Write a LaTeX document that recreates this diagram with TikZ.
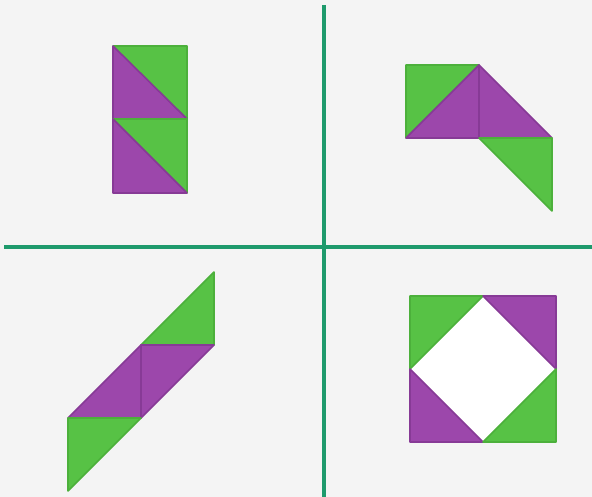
\documentclass[tikz,border=0pt]{standalone}
\usepackage{tikz}
\usetikzlibrary{positioning, calc}
\definecolor{bggray}{HTML}{F4F4F4}
\definecolor{rulegreen}{HTML}{1E9A6C}
\definecolor{leafgreen}{HTML}{57C245}
\definecolor{leafedge}{HTML}{4CB03B}
\definecolor{plum}{HTML}{9C47AB}
\definecolor{plumedge}{HTML}{873A96}
\tikzset{
	greentri/.style={fill=leafgreen, draw=leafedge, line width=1.6pt, line join=round},
	purpletri/.style={fill=plum, draw=plumedge, line width=1.6pt, line join=round},
	divider/.style={draw=rulegreen, line width=3.6pt}
}
\newcommand{\tri}[4]{\filldraw[#1] #2 -- #3 -- #4 -- cycle;}

\begin{document}
\begin{tikzpicture}[x=1pt, y=-1pt]
      \fill[bggray] (0,0) rectangle (592,497);
      \useasboundingbox (0,0) rectangle (592,497);

      % dividers
      \coordinate (vtop) at (324,5);
      \coordinate (vbot) at (324,497);
      \coordinate (hleft) at (4,247);
      \coordinate (hright) at (592,247);
      \draw[divider] (vtop) -- (vbot);
      \draw[divider] (hleft) -- (hright);

      % top left: two stacked squares
      \tri{greentri}{(113,46)}{(187,46)}{(187,119)}
      \tri{purpletri}{(113,46)}{(113,119)}{(187,119)}
      \tri{greentri}{(113,119)}{(187,119)}{(187,193)}
      \tri{purpletri}{(113,119)}{(113,193)}{(187,193)}

      % top right
      \tri{greentri}{(406,65)}{(479,65)}{(406,138)}
      \tri{purpletri}{(406,138)}{(479,65)}{(479,138)}
      \tri{purpletri}{(479,65)}{(479,138)}{(552,138)}
      \tri{greentri}{(479,138)}{(552,138)}{(552,211)}

      % bottom left: slanted strip
      \tri{greentri}{(214,272)}{(214,345)}{(141,345)}
      \tri{purpletri}{(141,345)}{(214,345)}{(141,418)}
      \tri{purpletri}{(141,345)}{(141,418)}{(68,418)}
      \tri{greentri}{(68,418)}{(141,418)}{(68,491)}

      % bottom right: square with a hole
      \fill[white] (410,296) rectangle (556,442);
      \tri{greentri}{(410,296)}{(483,296)}{(410,369)}
      \tri{purpletri}{(483,296)}{(556,296)}{(556,369)}
      \tri{purpletri}{(410,369)}{(410,442)}{(483,442)}
      \tri{greentri}{(556,369)}{(556,442)}{(483,442)}
    \end{tikzpicture}
\end{document}
